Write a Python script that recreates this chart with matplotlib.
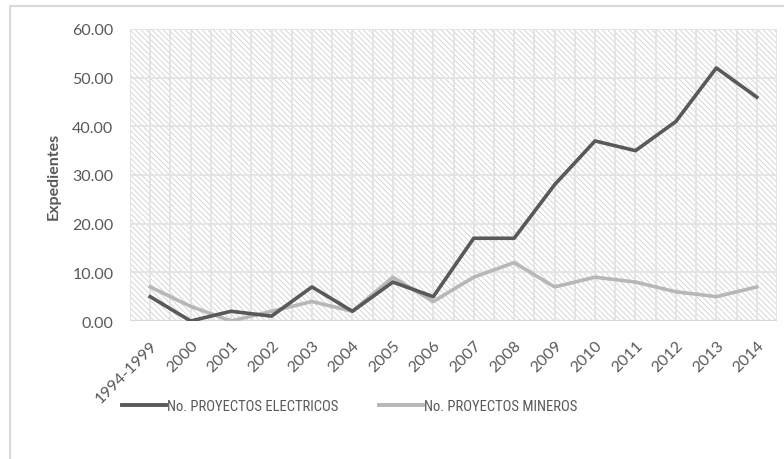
import matplotlib.pyplot as plt
from matplotlib import font_manager as fm
from matplotlib.patches import Rectangle
from matplotlib.lines import Line2D
import numpy as np

# Datos por periodo
periodos = ['1994-1999', '2000', '2001', '2002', '2003', '2004', '2005', '2006',
            '2007', '2008', '2009', '2010', '2011', '2012', '2013', '2014']
electricos = [5, 0, 2, 1, 7, 2, 8, 5, 17, 17, 28, 37, 35, 41, 52, 46]
mineros = [7, 3, 0, 2, 4, 2, 9, 4, 9, 12, 7, 9, 8, 6, 5, 7]

plt.rcParams['font.family'] = ['Lato', 'DejaVu Sans']
plt.rcParams['hatch.linewidth'] = 0.6
plt.rcParams['hatch.color'] = '#d0d0d0'

# Fuente estrecha para la leyenda, si hay alguna instalada
fuente_leyenda = {'family': 'Lato', 'size': 9.5}
for familia in ['Liberation Sans Narrow', 'Arial Narrow', 'Roboto Condensed',
                'Open Sans Condensed']:
    try:
        fm.findfont(familia, fallback_to_default=False)
        fuente_leyenda = {'family': familia, 'size': 10.5}
        break
    except ValueError:
        pass
else:
    ruta = fm.findfont(fm.FontProperties(family='DejaVu Sans', stretch='condensed'))
    if 'Condensed' in ruta:
        fuente_leyenda = fm.FontProperties(fname=ruta, size=10)

texto = '#595959'
fig = plt.figure(figsize=(7.84, 4.6), dpi=100)

# Marco exterior del gráfico
fig.patches.append(Rectangle((10 / 784, -0.1), 1.0, (460 - 7) / 460 + 0.1,
                             transform=fig.transFigure, fill=False,
                             edgecolor='#d9d9d9', linewidth=1.5))

ax = fig.add_axes([130 / 784, (460 - 322) / 460, (777 - 130) / 784, (322 - 30) / 460])
x = np.arange(len(periodos))

# Fondo rayado
ax.add_patch(Rectangle((0, 0), 1, 1, transform=ax.transAxes, facecolor='white',
                       hatch='\\\\\\\\\\\\', edgecolor='#d0d0d0', linewidth=0, zorder=0))

ax.set_xlim(-0.5, len(periodos) - 0.5)
ax.set_ylim(0, 60)

# Rejilla: líneas en cada categoría y entre categorías
for xv in np.arange(-0.5, len(periodos), 0.5):
    ax.axvline(xv, color='#e3e3e3', linewidth=1.3, zorder=1)
for yv in range(10, 61, 10):
    ax.axhline(yv, color='#e3e3e3', linewidth=1.3, zorder=1)
ax.axhline(0, color='#d9d9d9', linewidth=1.6, zorder=1)

ax.plot(x, electricos, color='#595959', linewidth=2.6, zorder=3,
        solid_joinstyle='round', label='No. PROYECTOS ELECTRICOS')
ax.plot(x, mineros, color='#b7b7b7', linewidth=2.6, zorder=2,
        solid_joinstyle='round', label='No. PROYECTOS MINEROS')

for s in ax.spines.values():
    s.set_visible(False)

ax.set_yticks(range(0, 61, 10))
ax.set_yticklabels([f'{v:.2f}' for v in range(0, 61, 10)])
ax.set_xticks(x)
ax.set_xticklabels(periodos, rotation=45, ha='right', rotation_mode='anchor')
ax.tick_params(length=0, labelsize=11.5, colors=texto)
ax.tick_params(axis='x', pad=12)
ax.tick_params(axis='y', pad=12)

ax.set_ylabel('Expedientes', fontsize=11.5, fontweight='bold', color=texto, labelpad=8)

handles = [Line2D([0], [0], color='#595959', linewidth=2.8),
           Line2D([0], [0], color='#b7b7b7', linewidth=2.8)]
fig.legend(handles, ['No. PROYECTOS ELECTRICOS', 'No. PROYECTOS MINEROS'],
           loc='center', bbox_to_anchor=(0.446, 0.115), ncol=2,
           frameon=False, labelcolor=texto, handlelength=3.0,
           handletextpad=0.05, columnspacing=2.8, prop=fuente_leyenda)

fig.savefig('out.png', dpi=100)
